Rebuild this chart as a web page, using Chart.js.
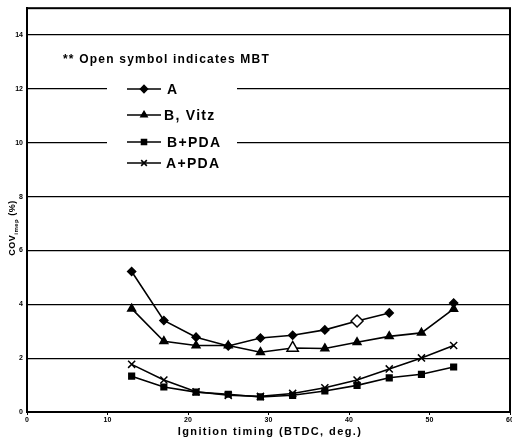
<!DOCTYPE html>
<html>
<head>
<meta charset="utf-8">
<script src="https://cdn.jsdelivr.net/npm/chart.js@4/dist/chart.umd.min.js"></script>
<style>
  html, body { margin: 0; padding: 0; background: #fff; }
  #wrap { width: 512px; height: 439px; }
</style>
</head>
<body>
<div id="wrap"><canvas id="cov-chart" width="512" height="439"></canvas></div>
<script>
// ignition timing (BTDC, deg.)
const timing = [13, 17, 21, 25, 29, 33, 37, 41, 45, 49, 53];

// COVimep (%) per engine
const seriesA      = [5.22, 3.4, 2.78, 2.45, 2.75, 2.85, 3.05, 3.38, 3.68, null, 4.05];
const seriesBVitz  = [3.84, 2.63, 2.47, 2.47, 2.22, 2.38, 2.36, 2.59, 2.81, 2.94, 3.83];
const seriesBPDA   = [1.33, 0.93, 0.74, 0.66, 0.56, 0.62, 0.78, 0.99, 1.27, 1.4, 1.67];
const seriesAPDA   = [1.77, 1.19, 0.75, 0.62, 0.58, 0.69, 0.9, 1.19, 1.6, 2.01, 2.47];

// open symbol = MBT point
const mbtA = 41;
const mbtB = 33;

const seriesNames = ['A', 'B, Vitz', 'B+PDA', 'A+PDA'];
const yTicks = [0, 2, 4, 6, 8, 10, 12, 14];

const FONT = '"Liberation Sans", Arial, sans-serif';

function toPoints(values) {
    return timing.map((t, i) => ({ x: t, y: values[i] }));
}

function fills(mbt) {
    return timing.map(t => (t === mbt ? '#fff' : '#000'));
}

function sizes(mbt, normal, open) {
    return timing.map(t => (t === mbt ? open : normal));
}

const datasets = [
    {
        label: seriesNames[0],
        data: toPoints(seriesA),
        pointStyle: 'rectRot',
        pointRadius: sizes(mbtA, 4, 6),
        pointBackgroundColor: fills(mbtA),
        spanGaps: false
    },
    {
        label: seriesNames[1],
        data: toPoints(seriesBVitz),
        pointStyle: 'triangle',
        pointRadius: sizes(mbtB, 4.5, 6.5),
        pointBackgroundColor: fills(mbtB)
    },
    {
        label: seriesNames[2],
        data: toPoints(seriesBPDA),
        pointStyle: 'rect',
        pointRadius: 4,
        pointBackgroundColor: '#000'
    },
    {
        label: seriesNames[3],
        data: toPoints(seriesAPDA),
        pointStyle: 'crossRot',
        pointRadius: 5,
        pointBackgroundColor: '#000'
    }
].map(ds => Object.assign({
    borderColor: '#000',
    borderWidth: 1.6,
    pointBorderColor: '#000',
    pointBorderWidth: 1.5,
    tension: 0,
    fill: false
}, ds));

// frame, MBT note, legend box, axis titles
const decorPlugin = {
    id: 'decor',
    afterDraw(chart) {
        const ctx = chart.ctx;
        const area = chart.chartArea;
        ctx.save();

        // white legend panel over grid lines
        ctx.fillStyle = '#fff';
        ctx.fillRect(107, 72, 130, 104);

        // frame
        ctx.strokeStyle = '#000';
        ctx.lineWidth = 2;
        ctx.strokeRect(area.left, area.top, area.right - area.left, area.bottom - area.top);

        // note
        ctx.fillStyle = '#000';
        ctx.font = 'bold 12px ' + FONT;
        ctx.letterSpacing = '1.2px';
        ctx.textBaseline = 'middle';
        ctx.textAlign = 'left';
        ctx.fillText('** Open symbol indicates MBT', 63, 60);

        // legend
        const rows = [89, 115, 142, 163];
        const labelX = [167, 164, 167, 166];
        chart.data.datasets.forEach((ds, i) => {
            const y = rows[i];
            ctx.strokeStyle = '#000';
            ctx.lineWidth = 1.6;
            ctx.beginPath();
            ctx.moveTo(127, y);
            ctx.lineTo(161, y);
            ctx.stroke();
            ctx.fillStyle = '#000';
            const r = ds.pointStyle === 'crossRot' ? 4 : 3.5;
            Chart.helpers.drawPoint(ctx, {
                pointStyle: ds.pointStyle,
                radius: r,
                borderWidth: 1.5
            }, 144, y);
            ctx.font = 'bold 14px ' + FONT;
            ctx.letterSpacing = '1.3px';
            ctx.fillText(ds.label, labelX[i], y + 1);
        });

        // x axis title
        ctx.font = 'bold 11px ' + FONT;
        ctx.letterSpacing = '1.4px';
        ctx.textAlign = 'center';
        ctx.fillText('Ignition timing (BTDC, deg.)', 270, 432);

        // y axis title with subscript
        ctx.letterSpacing = '0.5px';
        ctx.translate(13, 228);
        ctx.rotate(-Math.PI / 2);
        ctx.textAlign = 'left';
        ctx.font = 'bold 9px ' + FONT;
        const w1 = ctx.measureText('COV').width;
        ctx.font = 'bold 6px ' + FONT;
        const w2 = ctx.measureText('imep').width;
        ctx.font = 'bold 9px ' + FONT;
        const w3 = ctx.measureText(' (%)').width;
        let x0 = -(w1 + w2 + w3) / 2;
        ctx.fillText('COV', x0, 0);
        ctx.font = 'bold 6px ' + FONT;
        ctx.fillText('imep', x0 + w1, 3);
        ctx.font = 'bold 9px ' + FONT;
        ctx.fillText(' (%)', x0 + w1 + w2, 0);

        ctx.restore();
    }
};

new Chart(document.getElementById('cov-chart'), {
    type: 'line',
    data: { datasets },
    plugins: [decorPlugin],
    options: {
        responsive: false,
        animation: false,
        layout: { autoPadding: false, padding: { top: 7, right: 2, left: 0, bottom: 0 } },
        plugins: {
            legend: { display: false },
            tooltip: { enabled: false }
        },
        scales: {
            x: {
                type: 'linear',
                min: 0,
                max: 60,
                afterFit(scale) {
                    scale.height = 27;
                    scale.paddingRight = 0;
                    scale.paddingLeft = 0;
                },
                ticks: {
                    stepSize: 10,
                    color: '#000',
                    padding: 1,
                    font: { family: FONT, size: 7, weight: 'bold' }
                },
                grid: { display: true, drawOnChartArea: false, tickLength: 3, color: '#000' },
                border: { color: '#000', width: 2 }
            },
            y: {
                min: 0,
                max: 15,
                afterFit(scale) { scale.width = 27; },
                afterBuildTicks(scale) {
                    scale.ticks = yTicks.map(v => ({ value: v }));
                },
                ticks: {
                    color: '#000',
                    padding: 4,
                    font: { family: FONT, size: 7, weight: 'bold' }
                },
                grid: { color: '#000', lineWidth: 1.3, tickLength: 0 },
                border: { color: '#000', width: 2 }
            }
        }
    }
});
</script>
</body>
</html>
